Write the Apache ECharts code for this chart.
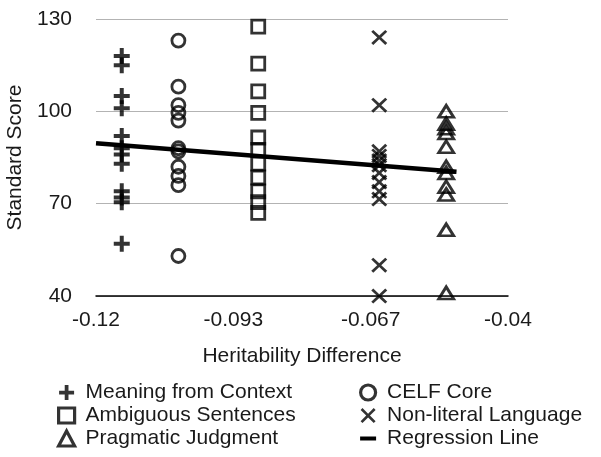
<!DOCTYPE html>
<html>
<head>
<meta charset="utf-8">
<script src="https://cdn.jsdelivr.net/npm/echarts@6.0.0/dist/echarts.min.js"></script>
<style>
  html, body { margin: 0; padding: 0; background: #fff; }
  #chart { width: 601px; height: 457px; }
</style>
</head>
<body>
<div id="chart"></div>
<script>
// x tick labels as printed on the figure
const xTickLabels = ['-0.12', '-0.093', '-0.067', '-0.04'];

// each measure sits at one heritability difference
const meaningX = -0.115;
const meaningScores = [118, 115, 105, 101, 92, 88, 86, 83, 74, 72, 70.5, 57];
const celfX = -0.104;
const celfScores = [123, 108, 102, 99.5, 97, 88, 87, 82, 79, 76, 53];
const ambiguousX = -0.0885;
const ambiguousScores = [127.5, 115.5, 106.5, 99.5, 91.5, 87.5, 83, 78.5, 74, 70.5, 67];
const nonLiteralX = -0.065;
const nonLiteralScores = [124, 102, 87, 85.5, 84, 82.5, 80, 77, 74, 71.5, 50, 40];
const pragmaticX = -0.052;
const pragmaticScores = [100, 96, 94.5, 93, 88.5, 82, 80, 75.5, 73, 61.5, 41];
const regressionX = [-0.12, -0.05];
const regressionY = [89.6, 80.4];

const FONT = 'Liberation Sans, Arial, sans-serif';
const INK = '#1a1a1a';

const plusPath = 'path://M6,0H10V6H16V10H10V16H6V10H0V6H6Z';
const crossPath = 'path://M0,2L2,0L8,6L14,0L16,2L10,8L16,14L14,16L8,10L2,16L0,14L6,8Z';
const dashPath = 'path://M0,0H16V4H0Z';

const toPairs = (x, ys) => ys.map((y) => [x, y]);

const hollow = {
  color: 'rgba(0,0,0,0)',
  borderColor: '#000',
  borderWidth: 2.8,
};
// legend swatches are drawn a little heavier than the plot markers
const hollowIcon = { color: 'rgba(0,0,0,0)', borderColor: '#000', borderWidth: 3.2 };
const solidIcon = { color: '#000', borderWidth: 0 };

const chart = echarts.init(document.getElementById('chart'), null, { renderer: 'canvas' });

const legendBase = {
  orient: 'vertical',
  top: 381,
  padding: 0,
  itemWidth: 16,
  itemHeight: 15,
  itemGap: 0,
  selectedMode: false,
  textStyle: {
    fontFamily: FONT,
    fontSize: 21,
    color: INK,
    lineHeight: 23,
    padding: [0, 0, 0, 6],
  },
};

const option = {
  animation: false,
  backgroundColor: '#fff',
  grid: {
    left: 96,
    right: 93,
    top: 19,
    bottom: 161,
    outerBoundsMode: 'none',
  },
  legend: [
    {
      ...legendBase,
      left: 57,
      data: [
        { name: 'Meaning from Context', icon: plusPath, itemStyle: solidIcon },
        { name: 'Ambiguous Sentences', icon: 'rect', itemStyle: hollowIcon },
        { name: 'Pragmatic Judgment', icon: 'triangle', itemStyle: hollowIcon },
      ],
    },
    {
      ...legendBase,
      left: 359,
      data: [
        { name: 'CELF Core', icon: 'circle', itemStyle: hollowIcon },
        { name: 'Non-literal Language', icon: crossPath, itemStyle: solidIcon },
        { name: 'Regression Line', icon: dashPath, itemStyle: solidIcon },
      ],
    },
  ],
  xAxis: {
    type: 'value',
    min: -0.12,
    max: -0.04,
    interval: 0.08 / 3,
    name: 'Heritability Difference',
    nameLocation: 'middle',
    nameGap: 50,
    nameTextStyle: { fontFamily: FONT, fontSize: 21, color: INK },
    axisLine: { show: true, onZero: false, lineStyle: { color: '#000', width: 1.5 } },
    axisTick: { show: false },
    splitLine: { show: false },
    axisLabel: {
      margin: 14,
      fontFamily: FONT,
      fontSize: 21,
      color: INK,
      showMinLabel: true,
      showMaxLabel: true,
      formatter: (v, i) => xTickLabels[i],
    },
  },
  yAxis: {
    type: 'value',
    min: 40,
    max: 130,
    interval: 30,
    name: 'Standard Score',
    nameLocation: 'middle',
    nameRotate: 90,
    nameGap: 70,
    nameTextStyle: { fontFamily: FONT, fontSize: 21, color: INK },
    axisLine: { show: false },
    axisTick: { show: false },
    splitLine: { show: true, lineStyle: { color: '#b3b3b3', width: 1 } },
    axisLabel: {
      margin: 24,
      fontFamily: FONT,
      fontSize: 21,
      color: INK,
    },
  },
  series: [
    {
      name: 'Meaning from Context',
      type: 'scatter',
      clip: false,
      symbol: plusPath,
      symbolSize: 16,
      itemStyle: { color: '#000' },
      data: toPairs(meaningX, meaningScores),
    },
    {
      name: 'CELF Core',
      type: 'scatter',
      clip: false,
      symbol: 'circle',
      symbolSize: 13,
      itemStyle: hollow,
      data: toPairs(celfX, celfScores),
    },
    {
      name: 'Ambiguous Sentences',
      type: 'scatter',
      clip: false,
      symbol: 'rect',
      symbolSize: 13,
      itemStyle: hollow,
      data: toPairs(ambiguousX, ambiguousScores),
    },
    {
      name: 'Non-literal Language',
      type: 'scatter',
      clip: false,
      symbol: crossPath,
      symbolSize: [16, 15],
      itemStyle: { color: '#000' },
      data: toPairs(nonLiteralX, nonLiteralScores),
    },
    {
      name: 'Pragmatic Judgment',
      type: 'scatter',
      clip: false,
      symbol: 'triangle',
      symbolSize: [15, 12],
      itemStyle: hollow,
      data: toPairs(pragmaticX, pragmaticScores),
    },
    {
      name: 'Regression Line',
      type: 'line',
      z: 5,
      showSymbol: false,
      symbol: 'none',
      itemStyle: { color: '#000' },
      lineStyle: { color: '#000', width: 4.5 },
      data: regressionX.map((x, i) => [x, regressionY[i]]),
    },
  ],
};

chart.setOption(option);
</script>
</body>
</html>
